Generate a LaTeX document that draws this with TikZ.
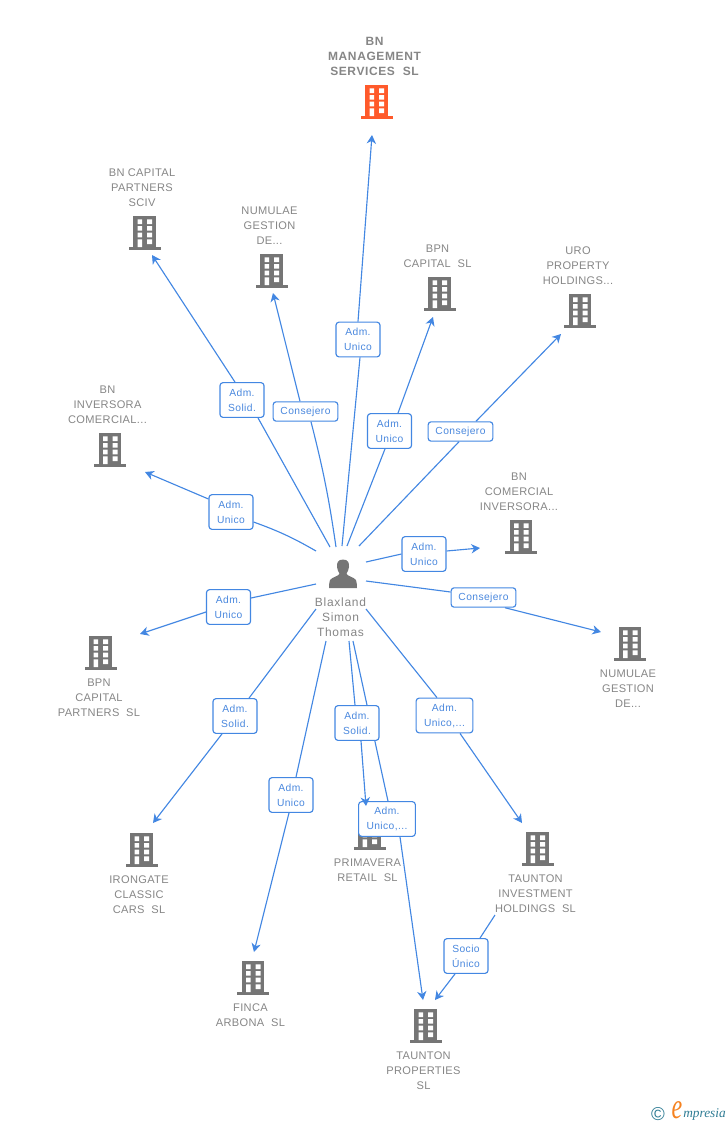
\documentclass[tikz,border=0pt]{standalone}
\usepackage{fontspec}
\setmainfont{Liberation Sans}
\newfontfamily\logofont{Liberation Serif}
\newfontfamily\entfont[LetterSpace=3]{Liberation Sans}
\newfontfamily\mainentfont[LetterSpace=5]{Liberation Sans}
\newfontfamily\personfont[LetterSpace=6]{Liberation Sans}
\newfontfamily\rolefont[LetterSpace=4]{Liberation Sans}
\usetikzlibrary{arrows.meta,calc}
\pgfdeclarelayer{bldg}
\pgfdeclarelayer{edge}
\pgfsetlayers{bldg,edge,main}
\definecolor{blueline}{HTML}{4387E2}
\definecolor{bluetext}{HTML}{4A88DE}
\definecolor{graytext}{HTML}{868686}
\definecolor{bldggray}{HTML}{757575}
\definecolor{bldgorange}{HTML}{FF5A2B}
\definecolor{logoteal}{HTML}{2F7C94}
\definecolor{logoorange}{HTML}{F58220}
\tikzset{
  x=.75pt,y=-.75pt,
  pics/bldg/.style={code={
    \fill[#1] (-11.2,-17) rectangle (11.2,14);
    \fill[#1] (-16,14) rectangle (16,17);
    \fill[white] (-7,-13.7) rectangle (-2.3,-9) (2.7,-13.7) rectangle (7.5,-9)
                 (-7,-7) rectangle (-2.3,-2.3) (2.7,-7) rectangle (7.5,-2.3)
                 (-7,-.3) rectangle (-2.3,4.3) (2.7,-.3) rectangle (7.5,4.3)
                 (-7,6.3) rectangle (-2.3,14) (2.7,6.3) rectangle (7.5,11);
  }},
  entity/.style={align=center,text=graytext,font=\entfont\fontsize{8.3pt}{11.25pt}\selectfont,inner sep=0pt},
  mainentity/.style={entity,font=\mainentfont\fontsize{9pt}{11.25pt}\selectfont\bfseries},
  rolebox/.style={draw=blueline,fill=white,rounded corners=2.2pt,line width=.85pt,text=bluetext,
     align=center,inner sep=0pt,font=\rolefont\fontsize{7.7pt}{11.25pt}\selectfont},
  twoline/.style={rolebox,minimum width=33pt,minimum height=26pt},
  wideline/.style={rolebox,minimum width=42.5pt,minimum height=26pt},
  oneline/.style={rolebox,minimum width=48.5pt,minimum height=14.5pt},
  link/.style={draw=blueline,line width=.85pt},
  tip/.style={link,-{Stealth[length=6.5pt,width=7pt,inset=2pt]}},
}
\begin{document}
\begin{tikzpicture}
\useasboundingbox (0,0) rectangle (728,1125);
\begin{pgfonlayer}{bldg}
\pic at (376.5,102) {bldg=bldgorange};
\pic at (144.5,233) {bldg=bldggray};
\pic at (271.5,271) {bldg=bldggray};
\pic at (439.5,294) {bldg=bldggray};
\pic at (580,311) {bldg=bldggray};
\pic at (110,450) {bldg=bldggray};
\pic at (521,537) {bldg=bldggray};
\pic at (630,644) {bldg=bldggray};
\pic at (100.5,653) {bldg=bldggray};
\pic at (141.5,850) {bldg=bldggray};
\pic at (369.5,833) {bldg=bldggray};
\pic at (537.5,849) {bldg=bldggray};
\pic at (253,978) {bldg=bldggray};
\pic at (425.5,1026) {bldg=bldggray};
\end{pgfonlayer}

\node[mainentity] (n0) at (374.5,56.5) {BN\\MANAGEMENT\\SERVICES\ \ SL};
\node[entity] (n1) at (142,187.5) {BN CAPITAL\\PARTNERS\\SCIV};
\node[entity] (n2) at (269.5,225.5) {NUMULAE\\GESTION\\DE...};
\node[entity] (n3) at (437.5,256) {BPN\\CAPITAL\ \ SL};
\node[entity] (n4) at (578,266) {URO\\PROPERTY\\HOLDINGS...};
\node[entity] (n5) at (107.5,405) {BN\\INVERSORA\\COMERCIAL...};
\node[entity] (n6) at (519,492) {BN\\COMERCIAL\\INVERSORA...};
\node[entity] (n7) at (628,689) {NUMULAE\\GESTION\\DE...};
\node[entity] (n8) at (99,698) {BPN\\CAPITAL\\PARTNERS\ \ SL};
\node[entity] (n9) at (139,895) {IRONGATE\\CLASSIC\\CARS\ \ SL};
\node[entity] (n10) at (367.5,870.5) {PRIMAVERA\\RETAIL\ \ SL};
\node[entity] (n11) at (535.5,894) {TAUNTON\\INVESTMENT\\HOLDINGS\ \ SL};
\node[entity] (n12) at (250.5,1015.5) {FINCA\\ARBONA\ \ SL};
\node[entity] (n13) at (423.5,1071) {TAUNTON\\PROPERTIES\\SL};
\node[entity,font=\personfont\fontsize{9pt}{11.25pt}\selectfont] (person) at (340.5,617) {Blaxland\\Simon\\Thomas};

% person icon
\fill[bldggray] (343,559.5) .. controls (338,559.5) and (336.5,563) .. (337,567)
  .. controls (337.3,570) and (338.5,572) .. (339.5,573.5)
  .. controls (339.5,576) and (332,577) .. (330,580)
  .. controls (329.3,582) and (329,585) .. (329,588) -- (357,588)
  .. controls (357,585) and (356.7,582) .. (356,580)
  .. controls (354,577) and (346.5,576) .. (346.5,573.5)
  .. controls (347.5,572) and (348.7,570) .. (349,567)
  .. controls (349.5,563) and (348,559.5) .. (343,559.5) -- cycle;

\node[twoline] (l1) at (358,339.5) {Adm.\\Unico};
\node[twoline] (l2) at (242,400) {Adm.\\Solid.};
\node[oneline] (l3) at (305.5,411.5) {Consejero};
\node[twoline] (l4) at (389.5,431) {Adm.\\Unico};
\node[oneline] (l5) at (460.5,431.5) {Consejero};
\node[twoline] (l6) at (231,512) {Adm.\\Unico};
\node[twoline] (l7) at (424,554) {Adm.\\Unico};
\node[oneline] (l8) at (483.5,597.5) {Consejero};
\node[twoline] (l9) at (228.5,607) {Adm.\\Unico};
\node[twoline] (l10) at (235,716) {Adm.\\Solid.};
\node[twoline] (l11) at (291,795) {Adm.\\Unico};
\node[twoline] (l12) at (357,723) {Adm.\\Solid.};
\node[wideline] (l13) at (387,819) {Adm.\\Unico,...};
\node[wideline] (l14) at (444.5,715.5) {Adm.\\Unico,...};
\node[twoline] (l15) at (466,956) {Socio\\Único};

\coordinate (s1) at (342,546); \coordinate (e1) at (372,135);
\coordinate (s2) at (330,547); \coordinate (e2) at (152,255);
\coordinate (s3) at (336,547); \coordinate (e3) at (273,293);
\coordinate (s4) at (347,546); \coordinate (e4) at (433,317);
\coordinate (s5) at (359,546); \coordinate (e5) at (561,334);
\coordinate (s6) at (316,551); \coordinate (e6) at (145,472);
\coordinate (s7) at (366,562); \coordinate (e7) at (480,548);
\coordinate (s8) at (366,581); \coordinate (e8) at (601,632);
\coordinate (s9) at (316,584); \coordinate (e9) at (140,634);
\coordinate (s10) at (316,609); \coordinate (e10) at (153,823);
\coordinate (s11) at (326,641); \coordinate (e11) at (254,952);
\coordinate (s12) at (349,641); \coordinate (e12) at (366,806);
\coordinate (s13) at (353,641); \coordinate (e13) at (423,1000);
\coordinate (s14) at (366,609); \coordinate (e14) at (522,823);
\coordinate (s15) at (495,915); \coordinate (e15) at (435,1000);

\begin{pgfonlayer}{edge}
\draw[link] (s1) -- ($(l1.south)+(2,0)$);
\draw[tip] (l1.north) -- (e1);
\draw[link] (s2) -- ($(l2.south)+(16,0)$);
\draw[tip] ($(l2.north)+(-7,0)$) -- (e2);
\draw[link] (s3) to[bend right=3] ($(l3.south)+(5.5,0)$);
\draw[tip] ($(l3.north)+(-5.5,0)$) -- (e3);
\draw[link] (s4) -- ($(l4.south)+(-4.5,0)$);
\draw[tip] ($(l4.north)+(8.5,0)$) -- (e4);
\draw[link] (s5) -- ($(l5.south)+(-1.5,0)$);
\draw[tip] ($(l5.north)+(15.5,0)$) -- (e5);
\draw[link] (s6) to[bend right=5] ($(l6.east)+(0,10)$);
\draw[tip] ($(l6.west)+(0,-13)$) -- (e6);
\draw[link] (s7) -- (l7.west);
\draw[tip] ($(l7.east)+(0,-3)$) -- (e7);
\draw[link] (s8) -- ($(l8.west)+(0,-5.5)$);
\draw[tip] ($(l8.south)+(21.5,0)$) -- (e8);
\draw[link] (s9) -- ($(l9.east)+(0,-9)$);
\draw[tip] ($(l9.west)+(0,5)$) -- (e9);
\draw[link] (s10) -- ($(l10.north)+(14,0)$);
\draw[tip] ($(l10.south)+(-13,0)$) -- (e10);
\draw[link] (s11) -- ($(l11.north)+(5,0)$);
\draw[tip] ($(l11.south)+(-2,0)$) -- (e11);
\draw[link] (s12) -- ($(l12.north)+(-2,0)$);
\draw[link] (s13) -- ($(l13.north)+(1,0)$);
\draw[tip] ($(l13.south)+(13,0)$) -- (e13);
\draw[link] (s14) -- ($(l14.north)+(-7.5,0)$);
\draw[tip] ($(l14.south)+(15.5,0)$) -- (e14);
\draw[link] (s15) -- ($(l15.north)+(14,0)$);
\draw[tip] ($(l15.south)+(-11,0)$) -- (e15);
\end{pgfonlayer}
\draw[tip] ($(l12.south)+(4,0)$) -- (e12);

% logo
\node[inner sep=0pt,text=logoteal,font=\fontsize{14pt}{14pt}\selectfont] (logoc) at (658,1114) {©};
\node[inner sep=0pt,text=logoorange,yscale=1.5,font=\logofont\itshape\fontsize{18pt}{18pt}\selectfont] (logoe) at (677,1110) {e};
\node[inner sep=0pt,anchor=west,text=logoteal,font=\logofont\itshape\fontsize{10pt}{10pt}\selectfont] (logot) at (683,1114) {mpresia};
\end{tikzpicture}
\end{document}
